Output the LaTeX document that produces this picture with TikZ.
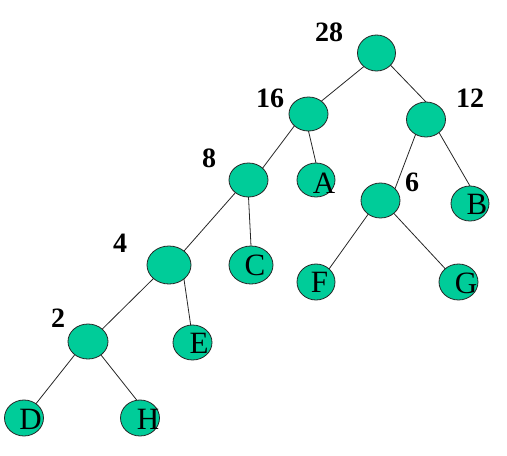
\documentclass[tikz,border=0pt]{standalone}
\usepackage{fontspec}
\setmainfont{Liberation Serif}
\usetikzlibrary{shapes.geometric}
\definecolor{nodegreen}{RGB}{0,204,153}
\begin{document}
\begin{tikzpicture}[x=1pt,y=-1pt,
  treenode/.style={ellipse,draw=black!85,line width=0.8pt,fill=nodegreen,inner sep=0pt,outer sep=0pt,minimum width=39pt,minimum height=35pt},
  bignode/.style={treenode,minimum width=44pt,minimum height=38pt},
  weight/.style={font=\fontsize{28}{28}\selectfont\bfseries,inner sep=0pt},
  leaf/.style={font=\fontsize{31}{31}\selectfont,inner sep=0pt},
  edge/.style={draw=black!85,line width=0.8pt}]
\useasboundingbox (0,0) rectangle (507,456);
% internal nodes
\node[treenode,minimum width=38pt,minimum height=36pt] (n28) at (376.5,53) {};
\node[treenode,minimum height=34pt] (n16) at (308.5,114) {};
\node[treenode] (n12) at (426,119.5) {};
\node[treenode,minimum height=34pt] (n8) at (248.5,180) {};
\node[treenode] (n6) at (380.5,200.5) {};
\node[bignode] (n4) at (169,265) {};
\node[treenode,minimum width=40pt] (n2) at (88,341.5) {};
% leaves
\node[treenode,minimum width=38pt,minimum height=34pt] (A) at (316,180) {};
\node[treenode,minimum width=38pt] (B) at (470,203.5) {};
\node[bignode] (C) at (251,265) {};
\node[treenode,minimum width=38pt,minimum height=36pt] (F) at (316,282) {};
\node[treenode,minimum height=36pt] (G) at (458.5,282) {};
\node[treenode] (E) at (192.5,342.5) {};
\node[treenode,minimum height=36pt] (D) at (24,418) {};
\node[treenode,minimum height=36pt] (H) at (140,418) {};
% leaf letters
\node[leaf] (tA) at (324,183) {A};
\node[leaf] (tB) at (477,204) {B};
\node[leaf] (tC) at (255,265.5) {C};
\node[leaf] (tF) at (319.5,282.5) {F};
\node[leaf] (tG) at (466,283) {G};
\node[leaf] (tE) at (199,343) {E};
\node[leaf] (tD) at (30.5,419) {D};
\node[leaf] (tH) at (148,419) {H};
% weights
\node[weight] (w28) at (329,32) {28};
\node[weight] (w16) at (270,98) {16};
\node[weight] (w12) at (470,98) {12};
\node[weight] (w8) at (209,158) {8};
\node[weight] (w6) at (412,182) {6};
\node[weight] (w4) at (120,243) {4};
\node[weight] (w2) at (58,318) {2};
% edges
\draw[edge] (n28.227) -- (n16.45);
\draw[edge] (n28.319) -- (n12.north);
\draw[edge] (n16.south) -- (A.north);
\draw[edge] (n16.220) -- (n8.40);
\draw[edge] (n8.south) -- (C.north);
\draw[edge] (n8.224) -- (n4.43);
\draw[edge] (n4.317) -- (E.96);
\draw[edge] (n4.221) -- (n2.41);
\draw[edge] (n2.225) -- (D.50);
\draw[edge] (n2.314) -- (H.100);
\draw[edge] (n12.235) -- (n6.39);
\draw[edge] (n12.315) -- (B.north);
\draw[edge] (n6.228) -- (F.45);
\draw[edge] (n6.316) -- (G.135);
\end{tikzpicture}
\end{document}
